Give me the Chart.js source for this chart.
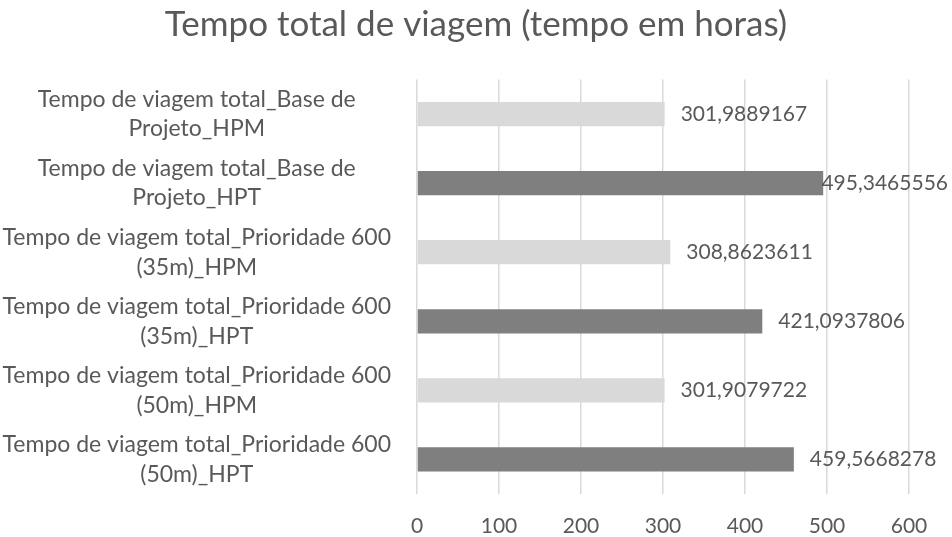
<!DOCTYPE html>
<html>
<head>
<meta charset="utf-8">
<script src="https://cdn.jsdelivr.net/npm/chart.js@4"></script>
<style>
  html, body { margin: 0; padding: 0; background: #fff; }
  #wrap { width: 952px; height: 537px; }
</style>
</head>
<body>
<div id="wrap"><canvas id="chart"></canvas></div>
<script>
// categories (two-line labels, top to bottom)
const categories = [
  ['Tempo de viagem total_Base de', 'Projeto_HPM'],
  ['Tempo de viagem total_Base de', 'Projeto_HPT'],
  ['Tempo de viagem total_Prioridade 600', '(35m)_HPM'],
  ['Tempo de viagem total_Prioridade 600', '(35m)_HPT'],
  ['Tempo de viagem total_Prioridade 600', '(50m)_HPM'],
  ['Tempo de viagem total_Prioridade 600', '(50m)_HPT']
];
const values = [301.9889167, 495.3465556, 308.8623611, 421.0937806, 301.9079722, 459.5668278];
const xTicks = [0, 100, 200, 300, 400, 500, 600];
const barColors = ['#d9d9d9', '#7f7f7f', '#d9d9d9', '#7f7f7f', '#d9d9d9', '#7f7f7f'];

const FONT = 'Lato, "Open Sans", sans-serif';
const TEXT = '#595959';

// simple data label plugin (value just past the end of each bar)
const valueLabels = {
  id: 'valueLabels',
  afterDatasetsDraw(chart) {
    const ctx = chart.ctx;
    const meta = chart.getDatasetMeta(0);
    ctx.save();
    ctx.font = '21px ' + FONT;
    ctx.fillStyle = TEXT;
    ctx.textBaseline = 'middle';
    meta.data.forEach((bar, i) => {
      const txt = String(values[i]).replace('.', ',');
      const w = ctx.measureText(txt).width;
      let x = bar.x + 16;
      if (x + w > chart.width - 4) x = chart.width - 4 - w;
      ctx.fillText(txt, x, bar.y);
    });
    ctx.restore();
  }
};

new Chart(document.getElementById('chart'), {
  type: 'bar',
  data: {
    labels: categories,
    datasets: [{
      data: values,
      backgroundColor: barColors,
      barPercentage: 0.7,
      categoryPercentage: 0.5
    }]
  },
  options: {
    indexAxis: 'y',
    responsive: true,
    maintainAspectRatio: false,
    animation: false,
    layout: { padding: 0 },
    plugins: {
      legend: { display: false },
      tooltip: { enabled: false },
      title: {
        display: true,
        text: 'Tempo total de viagem (tempo em horas)',
        color: TEXT,
        font: { family: FONT, size: 35, weight: 'normal', lineHeight: 1.2 },
        padding: { top: 4, bottom: 33.5 }
      }
    },
    scales: {
      x: {
        min: 0,
        max: 600,
        afterBuildTicks(axis) { axis.ticks = xTicks.map(v => ({ value: v })); },
        afterFit(axis) { axis.height = 43; },
        grid: { color: '#d9d9d9', lineWidth: 1.5, drawTicks: false },
        border: { display: false },
        ticks: { color: TEXT, font: { family: FONT, size: 21 }, padding: 20 }
      },
      y: {
        afterFit(axis) {
          axis.width = 417;
          axis.paddingTop = 0;
          axis.paddingBottom = 0;
        },
        grid: { display: false, drawTicks: false },
        border: { display: false },
        ticks: {
          color: TEXT,
          font: { family: FONT, size: 23, lineHeight: 1.3 },
          crossAlign: 'center',
          padding: 26
        }
      },
      // empty axis on the right, only keeps room for the value labels
      yRight: {
        type: 'linear',
        position: 'right',
        grid: { display: false, drawTicks: false },
        border: { display: false },
        ticks: { display: false },
        afterFit(axis) { axis.width = 43; }
      }
    }
  },
  plugins: [valueLabels]
});
</script>
</body>
</html>
